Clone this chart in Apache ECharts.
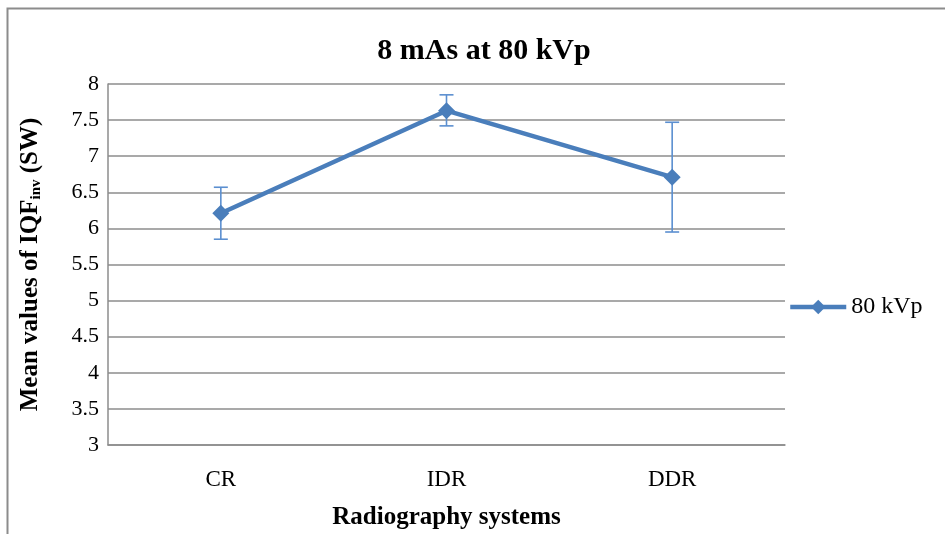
<!DOCTYPE html>
<html>
<head>
<meta charset="utf-8">
<script src="https://cdn.jsdelivr.net/npm/echarts@6/dist/echarts.min.js"></script>
<style>
  html, body { margin: 0; padding: 0; background: #fff; }
  #main { width: 945px; height: 534px; }
</style>
</head>
<body>
<div id="main"></div>
<script>
// chart data
const systems = ['CR', 'IDR', 'DDR'];
const meanValues = [6.21, 7.63, 6.71];
const errLow = [5.85, 7.42, 5.95];
const errHigh = [6.57, 7.85, 7.47];

const blue = '#4A7EBB';
const serif = '"Liberation Serif", "Times New Roman", serif';

const errData = systems.map((s, i) => [i, errLow[i], errHigh[i]]);

const chart = echarts.init(document.getElementById('main'));

chart.setOption({
    animation: false,
    backgroundColor: '#fff',
    textStyle: { fontFamily: serif },
    graphic: [{
        type: 'rect',
        shape: { x: 7.5, y: 8.5, width: 1000, height: 1000 },
        style: { fill: 'none', stroke: '#8c8c8c', lineWidth: 2 },
        silent: true
    }],
    title: {
        text: '8 mAs at 80 kVp',
        left: 479,
        textAlign: 'center',
        top: 31,
        textStyle: { fontFamily: serif, fontWeight: 'bold', fontSize: 30, color: '#000' }
    },
    legend: {
        left: 783,
        top: 290,
        itemWidth: 56,
        itemHeight: 18,
        itemGap: 4,
        lineStyle: { width: 4.5 },
        textStyle: { fontFamily: serif, fontSize: 24, color: '#000' },
        data: ['80 kVp']
    },
    grid: { left: 108, right: 160, top: 84, bottom: 89, outerBoundsMode: 'none', containLabel: false },
    xAxis: {
        type: 'category',
        data: systems,
        boundaryGap: true,
        axisLine: { lineStyle: { color: '#8c8c8c', width: 1.5 } },
        axisTick: { show: false },
        axisLabel: { fontFamily: serif, fontSize: 23, color: '#000', margin: 23 },
        name: 'Radiography systems',
        nameLocation: 'middle',
        nameGap: 60,
        nameTextStyle: { fontFamily: serif, fontWeight: 'bold', fontSize: 25, color: '#000' }
    },
    yAxis: {
        type: 'value',
        min: 3,
        max: 8,
        interval: 0.5,
        axisLine: { show: true, lineStyle: { color: '#8c8c8c', width: 1.5 } },
        axisTick: { show: false },
        splitLine: { lineStyle: { color: '#8c8c8c', width: 1.5 } },
        axisLabel: { fontFamily: serif, fontSize: 22, color: '#000', margin: 9 },
        name: 'Mean values of IQF{sub|inv} (SW)',
        nameLocation: 'middle',
        nameRotate: 90,
        nameGap: 64,
        nameTextStyle: {
            fontFamily: serif, fontWeight: 'bold', fontSize: 25, color: '#000',
            rich: {
                sub: { fontFamily: serif, fontWeight: 'bold', fontSize: 15, color: '#000', padding: [12, 0, 0, 0] }
            }
        }
    },
    series: [
        {
            name: 'errors',
            type: 'custom',
            data: errData,
            z: 1,
            renderItem: function (params, api) {
                const x = api.value(0);
                const top = api.coord([x, api.value(2)]);
                const bot = api.coord([x, api.value(1)]);
                const w = 7;
                const st = { stroke: '#5B8FD0', lineWidth: 1.6 };
                return {
                    type: 'group',
                    children: [
                        { type: 'line', shape: { x1: top[0], y1: top[1], x2: bot[0], y2: bot[1] }, style: st },
                        { type: 'line', shape: { x1: top[0] - w, y1: top[1], x2: top[0] + w, y2: top[1] }, style: st },
                        { type: 'line', shape: { x1: bot[0] - w, y1: bot[1], x2: bot[0] + w, y2: bot[1] }, style: st }
                    ]
                };
            }
        },
        {
            name: '80 kVp',
            type: 'line',
            data: meanValues,
            z: 3,
            symbol: 'diamond',
            symbolSize: 17,
            lineStyle: { color: blue, width: 4.5 },
            itemStyle: { color: blue }
        }
    ]
});
</script>
</body>
</html>
